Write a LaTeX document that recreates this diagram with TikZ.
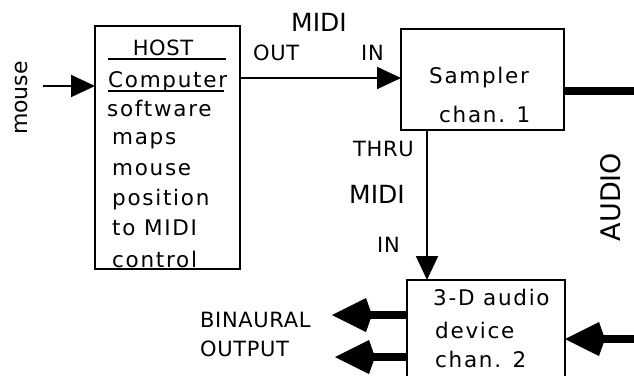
\documentclass[tikz,border=0pt]{standalone}
\usepackage{fontspec}
\setmainfont{DejaVu Sans}
\usetikzlibrary{arrows.meta}
\begin{document}
\begin{tikzpicture}[x=1pt,y=-1pt,
  box/.style={draw, line width=2pt, outer sep=0pt, inner sep=0pt, anchor=north west},
  txt/.style={anchor=base west, inner sep=0pt, font=\fontsize{21.5}{24}\selectfont\addfontfeature{LetterSpace=8}},
  captxt/.style={anchor=base west, inner sep=0pt, font=\fontsize{21}{24}\selectfont\addfontfeature{LetterSpace=3}},
  miditxt/.style={anchor=base west, inner sep=0pt, font=\fontsize{25}{28}\selectfont},
  thinarrow/.style={line width=2pt, -{Triangle[length=24pt,width=22pt]}},
  thickarrow/.style={line width=8pt, -{Kite[length=40pt,width=34pt,inset=6pt]}},
  thickline/.style={line width=8pt}
]
\useasboundingbox (0,0) rectangle (634,375);
\clip (0,0) rectangle (634,375);
% boxes
\node[box, minimum width=145pt, minimum height=243pt] (host) at (95,26) {};
\node[box, minimum width=163pt, minimum height=101pt] (sampler) at (401,29) {};
\node[box, minimum width=158pt, minimum height=120pt] (dev) at (407,280) {};
% host text
\node[captxt, anchor=base] (t1) at (163,55) {HOST};
\draw[line width=1.5pt] (108,59) -- (226,59);
\node[txt] (t2) at (108,87) {Computer};
\draw[line width=1.5pt] (108,91) -- (224,91);
\node[txt] (t3) at (107,116) {software};
\node[txt] (t4) at (112,144) {maps};
\node[txt] (t5) at (112,175) {mouse};
\node[txt] (t6) at (112,205) {position};
\node[txt] (t7) at (112,235) {to MIDI};
\node[txt] (t8) at (112,267) {control};
% sampler text
\node[txt] (s1) at (429,83) {Sampler};
\node[txt] (s2) at (439,122) {chan. 1};
% device text
\node[txt] (d1) at (433,305) {3-D audio};
\node[txt] (d2) at (435,338) {device};
\node[txt] (d3) at (435,367) {chan. 2};
% labels
\node[inner sep=0pt, font=\fontsize{22}{24}\selectfont, rotate=90, anchor=center] (mouse) at (21,98) {mouse};
\node[inner sep=0pt, font=\fontsize{27}{30}\selectfont, rotate=90, anchor=center] (audio) at (611,197) {AUDIO};
\node[miditxt] (midi1) at (291,31) {MIDI};
\node[captxt] (out) at (253,60) {OUT};
\node[captxt] (in1) at (361,60) {IN};
\node[captxt] (thru) at (353,156) {THRU};
\node[miditxt] (midi2) at (349,203) {MIDI};
\node[captxt] (in2) at (377,252) {IN};
\node[captxt] (bin) at (200,327) {BINAURAL};
\node[captxt] (outp) at (200,356) {OUTPUT};
% connectors
\coordinate (m0) at (43,86);
\draw[thinarrow] (m0) -- (m0 -| host.west);
\coordinate (midiy) at (0,78);
\draw[thinarrow] (host.east |- midiy) -- (sampler.west |- midiy);
\coordinate (thrux) at (427,0);
\draw[thinarrow] (sampler.south -| thrux) -- (dev.north -| thrux);
\coordinate (aud1) at (640,91);
\draw[thickline] (sampler.east |- aud1) -- (aud1);
\coordinate (aud2) at (640,339);
\draw[thickarrow] (aud2) -- (dev.east |- aud2);
\coordinate (b1) at (332,315);
\coordinate (b2) at (335,357);
\draw[thickarrow] (dev.west |- b1) -- (b1);
\draw[thickarrow] (dev.west |- b2) -- (b2);
\end{tikzpicture}
\end{document}
